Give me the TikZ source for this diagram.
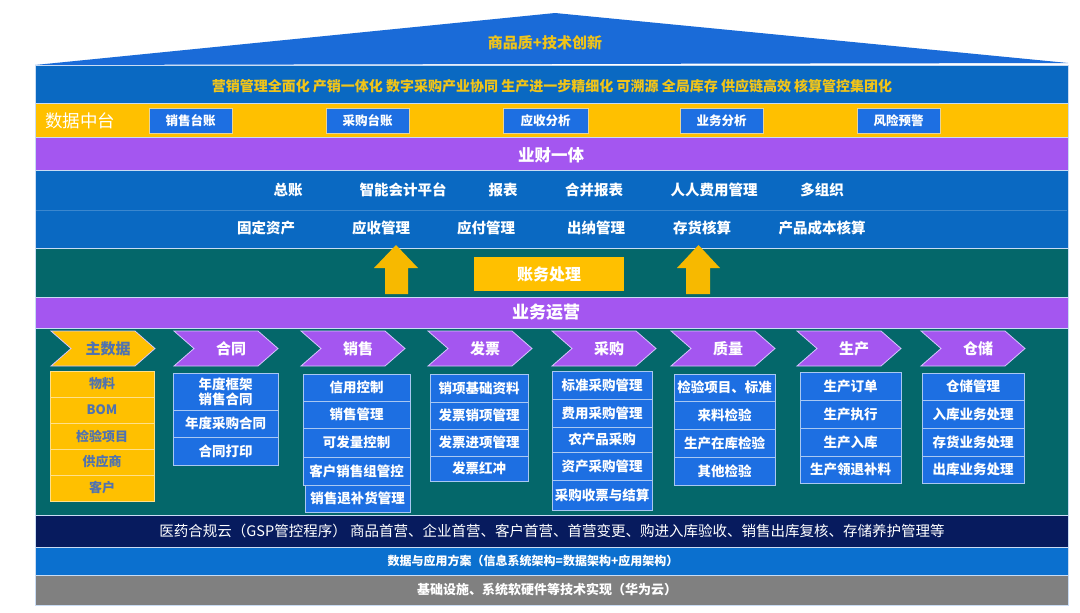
\documentclass[tikz,border=0pt]{standalone}
\usepackage{fontspec}
\setmainfont{Noto Sans CJK SC}
\definecolor{roofblue}{HTML}{1A6BD8}
\definecolor{bandblue}{HTML}{0A69C2}
\definecolor{yellowc}{HTML}{FFC000}
\definecolor{purplec}{HTML}{A456F0}
\definecolor{tealc}{HTML}{04676A}
\definecolor{navyc}{HTML}{071B5E}
\definecolor{blueb}{HTML}{0B70CF}
\definecolor{grayc}{HTML}{808080}
\definecolor{boxblue}{HTML}{1D6FE2}
\definecolor{boxline}{HTML}{A9C8F2}
\definecolor{bandline}{HTML}{C9DCF4}
\definecolor{textyellow}{HTML}{F0C419}
\definecolor{slate}{HTML}{4F72B0}
\definecolor{yline}{HTML}{FFE08A}
\definecolor{dline}{HTML}{E6D49A}
\definecolor{arrowc}{HTML}{F7B900}
\definecolor{chevline}{HTML}{D9C6FF}
\newcommand{\bx}[7][bbox]{%
  \pgfmathsetmacro{\bw}{#5-#3}\pgfmathsetmacro{\bh}{#6-#4}%
  \pgfmathsetmacro{\bcx}{(#3+#5)/2}\pgfmathsetmacro{\bcy}{(#4+#6)/2}%
  \node[#1, minimum width=\bw pt, minimum height=\bh pt] (#2) at (\bcx,\bcy) {#7};}
\newcommand{\chevron}[5]{% x, name, label, fill, text colour
  \path[chev, fill=#4] (#1,331) -- ++(84,0) -- ++(20,17.5) -- ++(-20,17.5) -- ++(-84,0) -- ++(20,-17.5) -- cycle;
  \node[chevlbl, text=#5] (#2) at (#1+57,348.5) {#3};}
\begin{document}
\begin{tikzpicture}[x=1pt,y=-1pt,
  band/.style={draw=bandline, line width=0.8pt},
  lbl/.style={text=white, font=\bfseries\fontsize{14.5}{16}\selectfont, inner sep=0pt},
  dbox/.style={fill=boxblue, draw=dline, line width=1pt, text=white, font=\bfseries\fontsize{12.5}{14}\selectfont, inner sep=0pt},
  bbox/.style={fill=boxblue, draw=boxline, line width=0.8pt, text=white, font=\bfseries\fontsize{13.5}{15}\selectfont, inner sep=0pt, align=center},
  ybox/.style={fill=yellowc, draw=yline, line width=0.8pt, text=slate, font=\bfseries\fontsize{13}{15}\selectfont, inner sep=0pt},
  chev/.style={draw=chevline, line width=0.8pt},
  chevlbl/.style={font=\bfseries\fontsize{15}{17}\selectfont, inner sep=0pt},
  arr/.style={fill=arrowc}
]
\fill[white] (0,0) rectangle (1080,613);
\useasboundingbox (0,0) rectangle (1080,613);
% roof
\path[fill=roofblue] (35,65) -- (555,13) -- (1068,63) -- cycle;
\node[text=textyellow, font=\bfseries\fontsize{15}{17}\selectfont] (roof) at (545,43) {商品质+技术创新};
% bands
\path[band, fill=bandblue] (35,65) rectangle (1068,103);
\node[text=textyellow, font=\bfseries\fontsize{14}{16}\selectfont] (slogan) at (552,86) {营销管理全面化 产销一体化 数字采购产业协同 生产进一步精细化 可溯源 全局库存 供应链高效 核算管控集团化};
\path[band, fill=yellowc] (35,103) rectangle (1068,137);
\node[text=white, font=\fontsize{17.5}{19}\selectfont, anchor=west, inner sep=0pt] (dzt) at (45,121) {数据中台};
\bx[dbox]{d1}{149}{108}{232}{133}{销售台账}
\bx[dbox]{d2}{326}{108}{409}{133}{采购台账}
\bx[dbox]{d3}{503}{108}{588}{133}{应收分析}
\bx[dbox]{d4}{680}{108}{763}{133}{业务分析}
\bx[dbox]{d5}{857}{108}{940}{133}{风险预警}
\path[band, fill=purplec] (35,137) rectangle (1068,170);
\node[text=white, font=\bfseries\fontsize{16.5}{18}\selectfont] (ycyt) at (551,155) {业财一体};
\path[band, fill=bandblue] (35,170) rectangle (1068,248);
\draw[draw=bandblue!80!white, line width=0.6pt] (36,210) -- (1067,210);
\node[lbl] (f1) at (288,190) {总账};
\node[lbl] (f2) at (403,190) {智能会计平台};
\node[lbl] (f3) at (503,190) {报表};
\node[lbl] (f4) at (594,190) {合并报表};
\node[lbl] (f5) at (714,190) {人人费用管理};
\node[lbl] (f6) at (822,190) {多组织};
\node[lbl] (g1) at (266,228) {固定资产};
\node[lbl] (g2) at (381,228) {应收管理};
\node[lbl] (g3) at (486,228) {应付管理};
\node[lbl] (g4) at (596,228) {出纳管理};
\node[lbl] (g5) at (702,228) {存货核算};
\node[lbl] (g6) at (822,228) {产品成本核算};
\path[band, fill=tealc] (35,248) rectangle (1068,297);
\path[arr] (385,294) -- (385,268) -- (374,268) -- (396,245) -- (418,268) -- (408,268) -- (408,294) -- cycle;
\path[arr] (686,294) -- (686,268) -- (677,268) -- (698.5,245) -- (720,268) -- (710,268) -- (710,294) -- cycle;
\bx[fill=yellowc, text=white, font=\bfseries\fontsize{16}{18}\selectfont, inner sep=0pt]{zwcl}{474}{257}{624}{291}{账务处理}
\path[band, fill=purplec] (35,297) rectangle (1068,328);
\node[text=white, font=\bfseries\fontsize{17}{19}\selectfont] (ywyy) at (546,312) {业务运营};
\path[band, fill=tealc] (35,328) rectangle (1068,515);
% chevrons
\chevron{51}{ch1}{主数据}{yellowc}{slate}
\chevron{174}{ch2}{合同}{purplec}{white}
\chevron{301}{ch3}{销售}{purplec}{white}
\chevron{428}{ch4}{发票}{purplec}{white}
\chevron{552}{ch5}{采购}{purplec}{white}
\chevron{671}{ch6}{质量}{purplec}{white}
\chevron{797}{ch7}{生产}{purplec}{white}
\chevron{921}{ch8}{仓储}{purplec}{white}
% column 1
\bx[ybox]{a1}{50}{371}{154}{397}{物料}
\bx[ybox]{a2}{50}{397}{154}{423}{BOM}
\bx[ybox]{a3}{50}{423}{154}{449}{检验项目}
\bx[ybox]{a4}{50}{449}{154}{475}{供应商}
\bx[ybox]{a5}{50}{475}{154}{501}{客户}
% column 2
\bx{b1}{173}{373}{278}{410}{年度框架\\销售合同}
\bx{b2}{173}{410}{278}{437.5}{年度采购合同}
\bx{b3}{173}{437.5}{278}{465}{合同打印}
% column 3
\bx{c1}{303}{374}{410}{401}{信用控制}
\bx{c2}{303}{401}{410}{428}{销售管理}
\bx{c3}{303}{428}{410}{457}{可发量控制}
\bx{c4}{303}{457}{410}{485}{客户销售组管控}
\bx{c5}{305}{485}{410}{512}{销售退补货管理}
% column 4
\bx{e1}{430}{374}{528}{402}{销项基础资料}
\bx{e2}{430}{402}{528}{429}{发票销项管理}
\bx{e3}{430}{429}{528}{456}{发票进项管理}
\bx{e4}{430}{456}{528}{481}{发票红冲}
% column 5
\bx{p1}{552}{371}{652}{399}{标准采购管理}
\bx{p2}{552}{399}{652}{427}{费用采购管理}
\bx{p3}{552}{427}{652}{452}{农产品采购}
\bx{p4}{552}{452}{652}{480.5}{资产采购管理}
\bx{p5}{552}{480.5}{652}{510}{采购收票与结算}
% column 6
\bx{q1}{674}{374}{775}{401}{检验项目、标准}
\bx{q2}{674}{401}{775}{429}{来料检验}
\bx{q3}{674}{429}{775}{457}{生产在库检验}
\bx{q4}{674}{457}{775}{485}{其他检验}
% column 7
\bx{s1}{800}{372}{901}{400}{生产订单}
\bx{s2}{800}{400}{901}{428}{生产执行}
\bx{s3}{800}{428}{901}{456}{生产入库}
\bx{s4}{800}{456}{901}{483}{生产领退补料}
% column 8
\bx{w1}{922}{373}{1024}{400}{仓储管理}
\bx{w2}{922}{400}{1024}{428}{入库业务处理}
\bx{w3}{922}{428}{1024}{456}{存货业务处理}
\bx{w4}{922}{456}{1024}{483}{出库业务处理}
% bottom bands
\path[band, fill=navyc] (35,515) rectangle (1068,547);
\node[text=white, font=\fontsize{14.5}{16}\selectfont] (gsp) at (552,531) {医药合规云（GSP管控程序）\ 商品首营、企业首营、客户首营、首营变更、购进入库验收、销售出库复核、存储养护管理等};
\path[band, fill=blueb] (35,547) rectangle (1068,575);
\node[text=white, font=\bfseries\fontsize{12}{14}\selectfont] (sj) at (533,561) {数据与应用方案（信息系统架构=数据架构+应用架构）};
\path[band, fill=grayc] (35,575) rectangle (1068,605);
\node[text=white, font=\bfseries\fontsize{13}{15}\selectfont] (jc) at (547,590) {基础设施、系统软硬件等技术实现（华为云）};
\end{tikzpicture}
\end{document}
